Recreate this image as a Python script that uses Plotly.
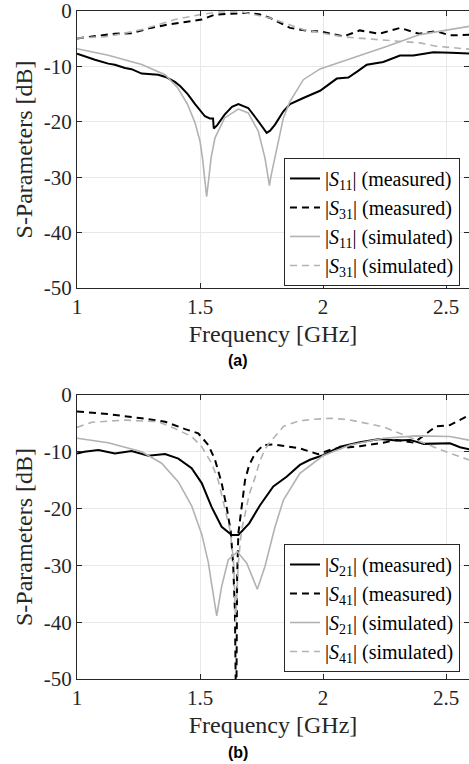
import plotly.graph_objects as go

# ---------------- (a) reflection / coupling ----------------
f_a_s11_meas = [1.0, 1.03, 1.073, 1.127, 1.154, 1.195, 1.222, 1.263, 1.3, 1.33, 1.36, 1.398, 1.42, 1.45, 1.48,
                1.5, 1.52, 1.54, 1.553, 1.556, 1.57, 1.6, 1.63, 1.656, 1.696, 1.737, 1.771, 1.785, 1.805,
                1.839, 1.866, 1.92, 1.988, 2.056, 2.08, 2.103, 2.14, 2.178, 2.245, 2.313, 2.367, 2.449,
                2.52, 2.6]
a_s11_meas = [-7.7, -8.2, -8.8, -9.5, -9.7, -10.3, -10.5, -11.3, -11.4, -11.5, -11.9, -12.8, -13.6, -15.0, -16.8,
              -18.0, -19.0, -19.4, -19.4, -21.2, -20.6, -18.7, -17.3, -16.8, -17.5, -19.9, -22.0, -21.6, -20.5,
              -18.1, -16.8, -15.7, -14.4, -12.2, -12.1, -12.0, -10.9, -9.7, -9.2, -8.05, -8.05, -7.45,
              -7.55, -7.7]

f_a_s31_meas = [1.0, 1.073, 1.154, 1.22, 1.3, 1.37, 1.45, 1.507, 1.56, 1.63, 1.69, 1.74, 1.785, 1.866, 1.947,
                1.988, 2.083, 2.15, 2.23, 2.313, 2.39, 2.46, 2.516, 2.6]
a_s31_meas = [-4.95, -4.6, -4.1, -4.0, -3.05, -2.45, -1.97, -1.55, -0.65, -0.52, -0.34, -0.6, -1.25, -3.05, -3.66,
              -3.66, -4.6, -3.5, -4.1, -3.05, -4.1, -3.66, -4.4, -4.3]

f_a_s11_sim = [1.0, 1.127, 1.263, 1.358, 1.41, 1.45, 1.48, 1.5, 1.51, 1.52, 1.527, 1.535, 1.545, 1.561, 1.6,
               1.656, 1.696, 1.737, 1.764, 1.775, 1.782, 1.79, 1.81, 1.839, 1.866, 1.92, 1.988, 2.123,
               2.258, 2.394, 2.6]
a_s11_sim = [-6.8, -8.0, -9.67, -11.5, -13.9, -16.9, -20.2, -23.5, -26.5, -30.5, -33.5, -30.5, -26.5, -22.9, -19.3,
             -17.7, -18.4, -21.7, -26.5, -29.5, -31.5, -29.5, -25.3, -19.3, -16.3, -12.4, -10.45, -8.45,
             -6.4, -4.26, -2.73]

f_a_s31_sim = [1.0, 1.127, 1.263, 1.398, 1.5, 1.576, 1.67, 1.785, 1.92, 2.083, 2.258, 2.394, 2.46, 2.6]
a_s31_sim = [-4.9, -4.6, -3.36, -1.55, -0.65, -0.17, -0.17, -1.25, -3.36, -4.67, -5.29, -5.76, -6.37, -6.9]

# ---------------- (b) transmission / isolation ----------------
f_b_s21_meas = [1.0, 1.03, 1.087, 1.154, 1.222, 1.29, 1.358, 1.412, 1.466, 1.507, 1.547, 1.588, 1.629, 1.656,
                1.7, 1.744, 1.798, 1.852, 1.906, 1.947, 2.0, 2.07, 2.15, 2.23, 2.3, 2.354, 2.41, 2.46, 2.516,
                2.557, 2.6]
b_s21_meas = [-10.3, -10.0, -9.7, -10.3, -9.86, -10.7, -10.4, -11.2, -12.9, -15.5, -19.7, -23.2, -24.65, -24.65,
              -22.6, -19.4, -16.1, -14.4, -12.3, -11.4, -10.6, -9.1, -8.3, -7.75, -8.0, -7.9, -8.6, -8.6, -8.5,
              -9.2, -9.6]

f_b_s41_meas = [1.0, 1.127, 1.263, 1.358, 1.44, 1.493, 1.534, 1.561, 1.588, 1.608, 1.625, 1.635, 1.642, 1.6475,
                1.649, 1.651, 1.656, 1.673, 1.683, 1.7, 1.724, 1.757, 1.8, 1.85, 1.906, 1.95, 1.98, 2.04,
                2.15, 2.245, 2.3, 2.37, 2.395, 2.435, 2.46, 2.516, 2.57, 2.6]
b_s41_meas = [-2.9, -3.35, -4.1, -4.7, -6.0, -6.75, -8.8, -11.4, -15.5, -19.7, -24.0, -30.0, -38.0, -60.0,
              -45.0, -32.0, -24.3, -18.5, -15.0, -12.3, -10.3, -8.8, -8.7, -9.0, -9.4, -10.0, -10.4, -9.5,
              -9.0, -8.4, -7.9, -8.4, -7.6, -6.2, -5.5, -5.3, -4.1, -3.4]

f_b_s21_sim = [1.0, 1.127, 1.263, 1.344, 1.412, 1.466, 1.507, 1.534, 1.547, 1.568, 1.588, 1.615, 1.652, 1.69,
               1.733, 1.764, 1.805, 1.839, 1.906, 2.0, 2.11, 2.245, 2.38, 2.516, 2.6]
b_s21_sim = [-7.6, -8.4, -10.0, -12.0, -15.3, -19.5, -24.5, -29.5, -33.2, -38.9, -33.7, -29.0, -27.6, -29.6,
             -34.2, -30.2, -23.2, -18.5, -13.8, -10.7, -8.8, -7.6, -7.2, -7.3, -8.0]

f_b_s41_sim = [1.0, 1.06, 1.195, 1.33, 1.398, 1.466, 1.507, 1.547, 1.574, 1.6, 1.622, 1.636, 1.645, 1.655,
               1.668, 1.683, 1.7, 1.724, 1.744, 1.764, 1.785, 1.805, 1.84, 1.9, 1.95, 2.03, 2.1, 2.245,
               2.41, 2.5, 2.6]
b_s41_sim = [-5.7, -4.8, -4.4, -4.7, -5.9, -7.3, -9.1, -12.0, -15.0, -19.7, -23.8, -29.0, -40.0, -30.0,
             -24.0, -21.0, -17.5, -14.5, -11.5, -9.6, -8.2, -7.3, -5.5, -4.6, -4.3, -4.1, -4.3, -5.6,
             -8.5, -10.0, -11.5]

names_a = ["|<i>S</i><sub>11</sub>| (measured)", "|<i>S</i><sub>31</sub>| (measured)",
           "|<i>S</i><sub>11</sub>| (simulated)", "|<i>S</i><sub>31</sub>| (simulated)"]
names_b = ["|<i>S</i><sub>21</sub>| (measured)", "|<i>S</i><sub>41</sub>| (measured)",
           "|<i>S</i><sub>21</sub>| (simulated)", "|<i>S</i><sub>41</sub>| (simulated)"]

x_ticks = [1, 1.5, 2, 2.5]
x_tick_text = ["1", "1.5", "2", "2.5"]
y_ticks = [0, -10, -20, -30, -40, -50]
y_tick_text = ["0", "-10", "-20", "-30", "-40", "-50"]

BLACK = "rgb(0,0,0)"
GRAY = "rgb(178,178,178)"
DASH = "7px,5px"
SERIF = "Liberation Serif"

styles = [dict(color=BLACK, width=2, dash="solid"),
          dict(color=BLACK, width=2, dash=DASH),
          dict(color=GRAY, width=1.6, dash="solid"),
          dict(color=GRAY, width=1.6, dash=DASH)]

fig = go.Figure()
data_a = [(f_a_s11_meas, a_s11_meas), (f_a_s31_meas, a_s31_meas), (f_a_s11_sim, a_s11_sim), (f_a_s31_sim, a_s31_sim)]
data_b = [(f_b_s21_meas, b_s21_meas), (f_b_s41_meas, b_s41_meas), (f_b_s21_sim, b_s21_sim), (f_b_s41_sim, b_s41_sim)]

for (fx, fy), nm, st in zip(data_a, names_a, styles):
    fig.add_trace(go.Scatter(x=fx, y=fy, name=nm, mode="lines", line=st, xaxis="x", yaxis="y", legend="legend"))
for (fx, fy), nm, st in zip(data_b, names_b, styles):
    fig.add_trace(go.Scatter(x=fx, y=fy, name=nm, mode="lines", line=st, xaxis="x2", yaxis="y2", legend="legend2"))

AX = "rgb(38,38,38)"
GRID = "rgb(232,232,232)"
XR = [1, 2.5935]

def xaxis(domain_anchor):
    return dict(range=XR, tickvals=x_ticks, ticktext=x_tick_text, showgrid=True, gridcolor=GRID,
                showline=True, linecolor=AX, linewidth=1, mirror="ticks", ticks="inside", ticklen=5,
                tickcolor=AX, zeroline=False, anchor=domain_anchor, ticklabeloverflow="allow",
                tickfont=dict(family=SERIF, size=21, color=AX),
                title=dict(text="Frequency [GHz]", font=dict(family=SERIF, size=24, color=AX), standoff=6))

def yaxis(domain, anchor):
    return dict(range=[-50, 0], domain=domain, tickvals=y_ticks, ticktext=y_tick_text, showgrid=True,
                gridcolor=GRID, showline=True, linecolor=AX, linewidth=1, mirror="ticks", ticks="inside",
                ticklen=5, tickcolor=AX, zeroline=False, anchor=anchor, ticklabeloverflow="allow",
                tickfont=dict(family=SERIF, size=21, color=AX),
                title=dict(text="S-Parameters [dB]", font=dict(family=SERIF, size=24, color=AX), standoff=4))

legend_common = dict(xanchor="left", yanchor="top", bgcolor="white", bordercolor=AX, borderwidth=1,
                     font=dict(family=SERIF, size=20, color="black"), tracegroupgap=0)

fig.update_layout(
    width=469, height=764,
    margin=dict(l=77, r=0, t=11, b=85),
    paper_bgcolor="white", plot_bgcolor="white",
    xaxis=xaxis("y"), yaxis=yaxis([0.5853, 1.0], "x"),
    xaxis2=xaxis("y2"), yaxis2=yaxis([0.0, 0.4251], "x2"),
    legend=dict(x=0.528, y=0.78, **legend_common),
    legend2=dict(x=0.528, y=0.2021, **legend_common),
    annotations=[
        dict(text="<b>(a)</b>", x=0.4107, y=0.4775, xref="paper", yref="paper", showarrow=False,
             xanchor="center", yanchor="middle", font=dict(family="Liberation Sans", size=16, color="black")),
        dict(text="<b>(b)</b>", x=0.4107, y=-0.1093, xref="paper", yref="paper", showarrow=False,
             xanchor="center", yanchor="middle", font=dict(family="Liberation Sans", size=16, color="black")),
    ],
)

fig.write_html("out.html", config={"displayModeBar": False},
               post_script="document.body.style.margin='0';")
